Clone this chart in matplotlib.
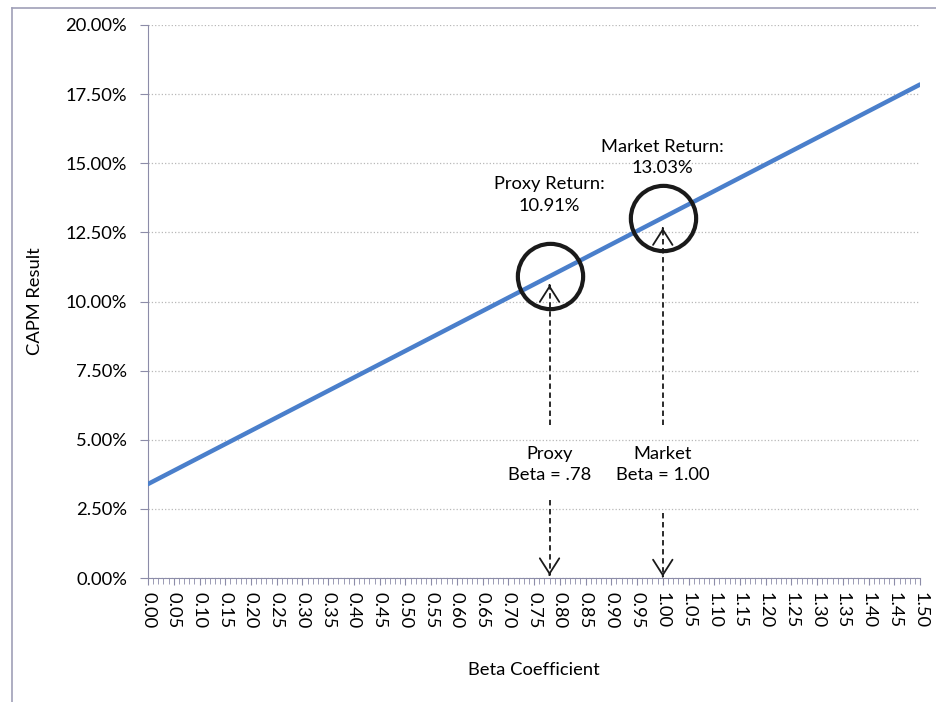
import matplotlib
matplotlib.use('Agg')
import matplotlib.pyplot as plt
from matplotlib.ticker import MultipleLocator, FuncFormatter
from matplotlib.lines import Line2D

plt.rcParams['font.family'] = ['Lato', 'DejaVu Sans']

# CAPM line: beta vs expected return (%)
beta = [0.00, 0.78, 1.00, 1.50]
capm = [3.40, 10.91, 13.03, 17.85]

proxy_beta = 0.78
proxy_ret = 10.91
market_beta = 1.00
market_ret = 13.03

x_ticks = [i * 0.05 for i in range(31)]
y_ticks = [0, 2.5, 5, 7.5, 10, 12.5, 15, 17.5, 20]

axis_col = '#8c8ca8'
fs = 13.2

fig = plt.figure(figsize=(9.37, 7.02), dpi=100)
ax = fig.add_axes([0.158, 0.1766, 0.824, 0.7878])

# chart frame
fig.add_artist(Line2D([12 / 937, 12 / 937], [0, 1 - 8 / 702], color='#a0a0b8', lw=1.2))
fig.add_artist(Line2D([12 / 937, 1], [1 - 8 / 702, 1 - 8 / 702], color='#a0a0b8', lw=1.2))

ax.plot(beta, capm, color='#4a7fcb', lw=3.2, solid_capstyle='round', zorder=3)

ax.set_xlim(0, 1.5)
ax.set_ylim(0, 20)
ax.set_yticks(y_ticks)
ax.yaxis.set_major_formatter(FuncFormatter(lambda v, p: f'{v:.2f}%'))
ax.set_xticks(x_ticks)
ax.set_xticklabels([f'{v:.2f}' for v in x_ticks], rotation=-90)
ax.xaxis.set_minor_locator(MultipleLocator(0.01))

ax.grid(axis='y', color='#b8b8b8', linestyle=':', lw=0.9)
ax.set_axisbelow(True)
for s in ['top', 'right']:
    ax.spines[s].set_visible(False)
for s in ['left', 'bottom']:
    ax.spines[s].set_color(axis_col)
ax.tick_params(axis='both', labelsize=fs, color=axis_col)
ax.tick_params(axis='x', which='major', length=5, pad=5)
ax.tick_params(axis='x', which='minor', length=4, color=axis_col)
ax.tick_params(axis='y', length=6, pad=9)

ax.set_ylabel('CAPM Result', fontsize=fs, labelpad=16)
ax.set_xlabel('Beta Coefficient', fontsize=fs, labelpad=24)

# circles around the two points
ax.plot([proxy_beta, market_beta], [proxy_ret, market_ret], 'o', ms=47,
        mfc='none', mec='#1a1a1a', mew=3.0, zorder=4)

ax.text(proxy_beta, 13.85, f'Proxy Return:\n{proxy_ret:.2f}%', ha='center', va='center',
        fontsize=fs, linespacing=1.4)
ax.text(market_beta, 15.2, f'Market Return:\n{market_ret:.2f}%', ha='center', va='center',
        fontsize=fs, linespacing=1.4)
ax.text(proxy_beta, 4.12, 'Proxy\nBeta = .78', ha='center', va='center',
        fontsize=fs, linespacing=1.4)
ax.text(market_beta, 4.12, 'Market\nBeta = 1.00', ha='center', va='center',
        fontsize=fs, linespacing=1.4)


def dashed_arrow(x, y0, y1):
    # dashed shaft plus a solid open head at y1
    ax.plot([x, x], [y0, y1], color='#1a1a1a', lw=1.3, ls=(0, (3, 2)), zorder=5)
    d = 0.01 if y1 > y0 else -0.01
    ax.annotate('', xy=(x, y1), xytext=(x, y1 - d),
                arrowprops=dict(arrowstyle='->,head_length=1.1,head_width=0.7',
                                color='#1a1a1a', lw=1.3), zorder=5)


dashed_arrow(proxy_beta, 5.53, 10.6)
dashed_arrow(proxy_beta, 2.82, 0.1)
dashed_arrow(market_beta, 5.53, 12.66)
dashed_arrow(market_beta, 2.35, 0.05)

fig.savefig('out.png', dpi=100)
